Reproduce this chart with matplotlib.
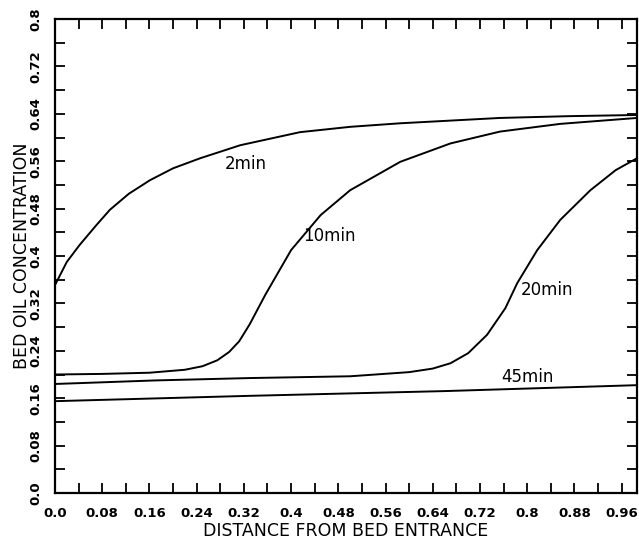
import matplotlib.pyplot as plt

# distance along the bed and concentration
x_2min = [0.0, 0.02, 0.042, 0.07, 0.093, 0.125, 0.161, 0.2, 0.246, 0.314, 0.415, 0.5, 0.585, 0.754, 0.87, 0.986]
y_2min = [0.351, 0.39, 0.419, 0.452, 0.478, 0.505, 0.528, 0.548, 0.565, 0.587, 0.609, 0.618, 0.624, 0.633, 0.636, 0.638]

x_10min = [0.0, 0.08, 0.16, 0.22, 0.25, 0.275, 0.295, 0.312, 0.33, 0.356, 0.4, 0.45, 0.5, 0.585, 0.67, 0.754, 0.856, 0.986]
y_10min = [0.2, 0.201, 0.203, 0.208, 0.214, 0.224, 0.238, 0.256, 0.285, 0.334, 0.41, 0.469, 0.511, 0.559, 0.59, 0.61, 0.623, 0.633]

x_20min = [0.0, 0.17, 0.33, 0.5, 0.6, 0.64, 0.67, 0.7, 0.732, 0.763, 0.783, 0.817, 0.856, 0.907, 0.95, 0.986]
y_20min = [0.184, 0.19, 0.194, 0.197, 0.204, 0.21, 0.219, 0.236, 0.267, 0.312, 0.354, 0.41, 0.461, 0.511, 0.545, 0.565]

x_45min = [0.0, 0.33, 0.66, 0.986]
y_45min = [0.155, 0.164, 0.172, 0.182]

curve_labels = ['2min', '10min', '20min', '45min']
label_pos = [(0.288, 0.555), (0.42, 0.433), (0.789, 0.343), (0.756, 0.195)]

xtick_vals = [i * 0.04 for i in range(25)]
ytick_vals = [i * 0.04 for i in range(21)]
xtick_text = ['0.0', '0.08', '0.16', '0.24', '0.32', '0.4', '0.48', '0.56', '0.64', '0.72', '0.8', '0.88', '0.96']
ytick_text = ['0.0', '0.08', '0.16', '0.24', '0.32', '0.4', '0.48', '0.56', '0.64', '0.72', '0.8']

fig = plt.figure(figsize=(6.39, 5.4), dpi=100)
ax = fig.add_axes([55 / 639, 47 / 540, 582 / 639, 474 / 540])

for xs, ys in [(x_2min, y_2min), (x_10min, y_10min), (x_20min, y_20min), (x_45min, y_45min)]:
    ax.plot(xs, ys, color='black', lw=1.4, solid_joinstyle='round')

for name, (tx, ty) in zip(curve_labels, label_pos):
    ax.text(tx, ty, name, fontsize=12, family='DejaVu Sans', va='center', ha='left')

ax.set_xlim(0, 0.986)
ax.set_ylim(0, 0.8)

xl = [''] * len(xtick_vals)
xl[::2] = xtick_text
yl = [''] * len(ytick_vals)
yl[::2] = ytick_text
ax.set_xticks(xtick_vals)
ax.set_xticklabels(xl, fontsize=9.5, fontweight='bold')
ax.set_yticks(ytick_vals)
ax.set_yticklabels(yl, fontsize=9.5, fontweight='bold', rotation=90, va='center')

ax.tick_params(direction='in', length=7, width=1.3, top=True, right=True)
ax.tick_params(axis='x', pad=10)
ax.tick_params(axis='y', pad=9)
for s in ax.spines.values():
    s.set_linewidth(1.6)

ax.set_xlabel('DISTANCE FROM BED ENTRANCE', fontsize=12.5)
ax.set_ylabel('BED OIL CONCENTRATION', fontsize=12.5)
ax.xaxis.set_label_coords(0.5, -0.062)
ax.yaxis.set_label_coords(-0.042, 0.5)

fig.savefig('out.png', dpi=100)
